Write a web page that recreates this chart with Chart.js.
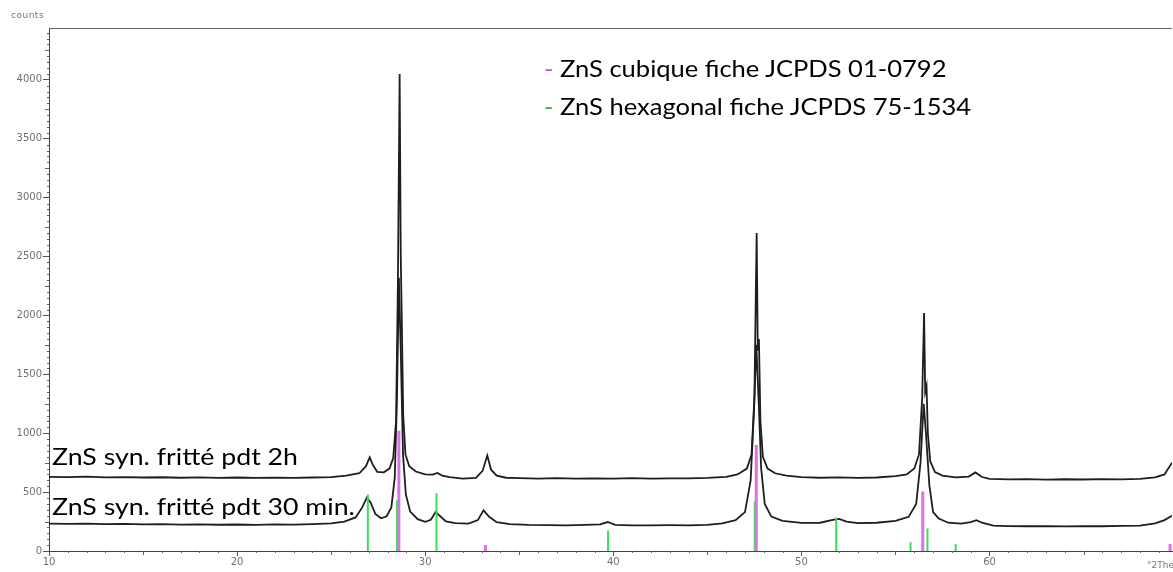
<!DOCTYPE html>
<html>
<head>
<meta charset="utf-8">
<script src="https://cdn.jsdelivr.net/npm/chart.js@4/dist/chart.umd.min.js"></script>
<style>
  html, body { margin: 0; padding: 0; background: #fff; }
  #wrap { position: relative; width: 1173px; height: 572px; overflow: hidden; background: #fff; }
  canvas { position: absolute; left: 0; top: 0; }
  .lbl { position: absolute; font-family: Lato, "Open Sans", sans-serif; color: #000; white-space: nowrap; transform-origin: 0 50%; }
  .small { position: absolute; font-family: "DejaVu Sans", sans-serif; color: #777; font-size: 9px; white-space: nowrap; }
</style>
</head>
<body>
<div id="wrap">
  <canvas id="c" width="1173" height="572"></canvas>
  <div class="small" style="left:11px; top:10px; letter-spacing:0.5px;">counts</div>
  <div class="small" style="left:1147px; top:560px;">°2Theta</div>
  <div class="lbl" style="left:52px; top:441px; font-size:23px; line-height:30px; transform:scaleX(1.16);">ZnS syn. fritté pdt 2h</div>
  <div class="lbl" style="left:52px; top:491px; font-size:23px; line-height:30px; transform:scaleX(1.16);">ZnS syn. fritté pdt 30 min.</div>
  <div class="lbl" style="left:544px; top:49px; font-size:23px; line-height:38px; transform:scaleX(1.11);"><span style="color:#e040e0">-</span> ZnS cubique fiche JCPDS 01-0792</div>
  <div class="lbl" style="left:544px; top:87px; font-size:23px; line-height:38px; transform:scaleX(1.11);"><span style="color:#20b050">-</span> ZnS hexagonal fiche JCPDS 75-1534</div>
</div>
<script>
// ---- data ----
const twoTheta2h = [10, 11, 12, 13, 14, 15, 16, 17, 18, 19, 20, 21, 22, 23, 24, 25, 25.8, 26.5, 26.85, 27.05, 27.2, 27.45, 27.8, 28.1, 28.3, 28.45, 28.55, 28.64, 28.7, 28.76, 28.83, 28.95, 29.15, 29.5, 30.0, 30.4, 30.65, 30.9, 31.3, 32.0, 32.7, 33.05, 33.3, 33.5, 33.8, 34.3, 35, 36, 37, 38, 39, 40, 41, 42, 43, 44, 45, 46, 46.6, 47.1, 47.35, 47.5, 47.62, 47.68, 47.74, 47.82, 47.95, 48.2, 48.6, 49.2, 50, 51, 52, 53, 54, 55, 55.6, 56.0, 56.25, 56.42, 56.52, 56.58, 56.65, 56.72, 56.85, 57.1, 57.5, 58.2, 58.9, 59.25, 59.6, 60, 61, 62, 63, 64, 65, 66, 67, 68, 68.8, 69.3, 69.7];
const counts2h  = [630, 627, 632, 625, 628, 624, 626, 622, 625, 621, 624, 620, 623, 621, 624, 628, 640, 660, 720, 795, 735, 672, 668, 700, 790, 1100, 2300, 4050, 2500, 1900, 1150, 820, 720, 675, 650, 648, 662, 640, 628, 615, 620, 680, 810, 690, 640, 622, 618, 615, 618, 614, 617, 615, 618, 614, 617, 616, 620, 630, 650, 700, 820, 1300, 2700, 1700, 1800, 1100, 800, 700, 660, 640, 628, 622, 625, 620, 624, 635, 650, 700, 820, 1300, 2020, 1350, 1400, 1000, 760, 670, 640, 625, 632, 667, 628, 612, 608, 610, 606, 609, 607, 610, 608, 612, 625, 650, 750];

const twoTheta30 = [10, 11, 12, 13, 14, 15, 16, 17, 18, 19, 20, 21, 22, 23, 24, 25, 25.7, 26.3, 26.65, 26.9, 27.1, 27.35, 27.65, 27.95, 28.2, 28.38, 28.5, 28.6, 28.7, 28.82, 28.97, 29.2, 29.6, 30.0, 30.3, 30.55, 30.8, 31.1, 31.6, 32.3, 32.8, 33.1, 33.4, 33.8, 34.5, 35.5, 36.5, 37.5, 38.5, 39.3, 39.7, 40.1, 41, 42, 43, 44, 45, 45.8, 46.5, 47.0, 47.3, 47.48, 47.6, 47.72, 47.86, 48.05, 48.4, 49.0, 50.0, 51.0, 51.6, 52.0, 52.4, 53.0, 54.0, 55.0, 55.7, 56.1, 56.33, 56.5, 56.62, 56.8, 57.0, 57.3, 57.8, 58.5, 59.0, 59.3, 59.6, 60.2, 61, 62, 63, 64, 65, 66, 67, 68, 68.8, 69.3, 69.7];
const counts30  = [232, 230, 233, 228, 230, 226, 228, 224, 226, 223, 225, 222, 226, 224, 228, 235, 250, 285, 370, 455, 410, 315, 278, 295, 370, 620, 1300, 2320, 1700, 820, 480, 335, 270, 248, 265, 330, 295, 252, 236, 232, 262, 345, 290, 245, 228, 222, 220, 218, 221, 226, 246, 222, 218, 217, 219, 218, 222, 235, 262, 330, 600, 1200, 1750, 1300, 700, 400, 292, 255, 238, 240, 262, 272, 250, 236, 240, 255, 290, 400, 750, 1250, 1000, 560, 330, 275, 240, 232, 245, 262, 240, 215, 212, 210, 212, 209, 212, 210, 213, 215, 235, 262, 300];

const cubicPos = [28.6, 33.2, 47.6, 56.45, 69.6];
const cubicInt = [1020, 50, 900, 505, 60];
const hexPos = [26.95, 28.5, 30.6, 39.72, 47.52, 51.85, 55.8, 56.7, 58.2];
const hexInt = [480, 430, 490, 175, 420, 285, 75, 190, 60];

const xLabels = [10, 20, 30, 40, 50, 60];
const yLabels = [0, 500, 1000, 1500, 2000, 2500, 3000, 3500, 4000];

// ---- build datasets ----
const toXY = (xs, ys) => xs.map((x, i) => ({ x: x, y: ys[i] }));
const sticks = (ps, hs) => ps.flatMap((p, i) => [{ x: p, y: 0 }, { x: p, y: hs[i] }, { x: p, y: null }]);

const minorTicks = {
  id: 'minorTicks',
  afterDraw(chart) {
    const ctx = chart.ctx;
    const xs = chart.scales.x, ys = chart.scales.y;
    const a = chart.chartArea;
    ctx.save();
    ctx.strokeStyle = '#666';
    ctx.lineWidth = 1;
    ctx.beginPath();
    for (let v = 10; v <= 69; v++) {
      if (v % 10 === 0) continue;
      const px = Math.round(xs.getPixelForValue(v)) + 0.5;
      const len = (v % 5 === 0) ? 4 : 2;
      ctx.moveTo(px, a.bottom);
      ctx.lineTo(px, a.bottom + len);
    }
    for (let v = 50; v <= 4400; v += 50) {
      if (v % 500 === 0) continue;
      const py = Math.round(ys.getPixelForValue(v)) + 0.5;
      const len = (v % 250 === 0) ? 4 : 2;
      ctx.moveTo(a.left, py);
      ctx.lineTo(a.left - len, py);
    }
    // top frame line
    ctx.moveTo(a.left, Math.round(a.top) + 0.5);
    ctx.lineTo(a.right, Math.round(a.top) + 0.5);
    ctx.stroke();
    ctx.restore();
  }
};

new Chart(document.getElementById('c'), {
  type: 'line',
  data: {
    datasets: [
      { label: 'cubique', data: sticks(cubicPos, cubicInt), borderColor: '#e070e8', borderWidth: 3, pointRadius: 0, spanGaps: false, order: 0 },
      { label: 'hexagonal', data: sticks(hexPos, hexInt), borderColor: '#3ddc5c', borderWidth: 2, pointRadius: 0, spanGaps: false, order: 1 },
      { label: '2h', data: toXY(twoTheta2h, counts2h), borderColor: '#1e1e1e', borderWidth: 1.8, pointRadius: 0, tension: 0, order: 2 },
      { label: '30 min', data: toXY(twoTheta30, counts30), borderColor: '#1e1e1e', borderWidth: 1.8, pointRadius: 0, tension: 0, order: 3 }
    ]
  },
  options: {
    responsive: false,
    animation: false,
    devicePixelRatio: 1,
    layout: { padding: { top: 28, right: 1, left: 0, bottom: 0 } },
    plugins: { legend: { display: false }, tooltip: { enabled: false } },
    scales: {
      x: {
        type: 'linear', min: 10, max: 69.7,
        afterBuildTicks: s => { s.ticks = xLabels.map(v => ({ value: v })); },
        afterFit: s => { s.height = 21; },
        grid: { drawOnChartArea: false, drawTicks: true, tickLength: 5, color: '#555' },
        border: { color: '#444', width: 1 },
        ticks: { color: '#707070', font: { family: 'DejaVu Sans', size: 10 }, padding: 0, maxRotation: 0, autoSkip: false, callback: v => String(v) }
      },
      y: {
        type: 'linear', min: 0, max: 4440,
        afterBuildTicks: s => { s.ticks = yLabels.map(v => ({ value: v })); },
        afterFit: s => { s.width = 49; },
        grid: { drawOnChartArea: false, drawTicks: true, tickLength: 6, color: '#555' },
        border: { color: '#444', width: 1 },
        ticks: { color: '#707070', font: { family: 'DejaVu Sans', size: 10 }, padding: 1, autoSkip: false, callback: v => String(v) }
      }
    }
  },
  plugins: [minorTicks]
});
</script>
</body>
</html>
